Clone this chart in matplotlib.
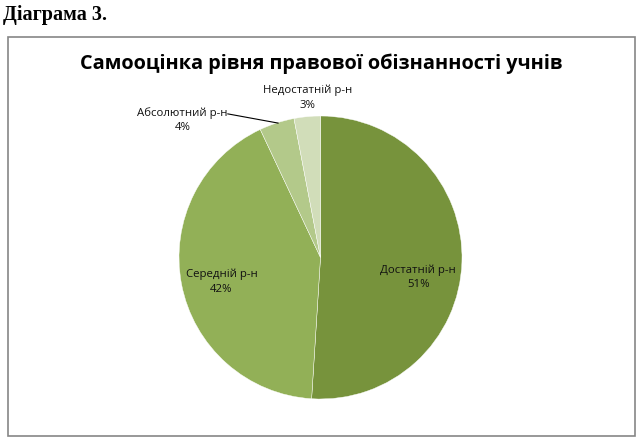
import matplotlib
matplotlib.use("Agg")
import matplotlib.pyplot as plt
from matplotlib.patches import Rectangle

W, H = 643, 444
categories = ["Достатній р-н", "Середній р-н", "Абсолютний р-н", "Недостатній р-н"]
values = [51, 42, 4, 3]
pct_labels = ["51%", "42%", "4%", "3%"]
colors = ["#77933C", "#92B057", "#B3C98A", "#D1DDB9"]
# label positions (radius units, relative to pie centre)
label_pos = [(0.69, -0.14), (-0.70, -0.17), (-0.975, 0.97), (-0.09, 1.13)]

fig = plt.figure(figsize=(W / 100, H / 100), dpi=100)
fig.patch.set_facecolor("white")

# outer frame
fig.add_artist(Rectangle((8 / W, 1 - 436 / H), (635 - 8) / W, (436 - 37) / H,
                         transform=fig.transFigure, fill=False,
                         edgecolor="#868686", linewidth=1.2))

fig.text(3 / W, 1 - 15 / H, "Діаграма 3.", family="Liberation Serif",
         fontweight="bold", fontsize=14.5, va="center", ha="left")
fig.text(321 / W, 1 - 64 / H, "Самооцінка рівня правової обізнанності учнів",
         family="Open Sans", fontweight="bold", fontsize=14.3,
         va="center", ha="center")

cx, cy, r = 320.5, 257.5, 141.5
ax = fig.add_axes([(cx - r) / W, (H - cy - r) / H, 2 * r / W, 2 * r / H])
wedges, _ = ax.pie(values, colors=colors, startangle=90, counterclock=False,
                   radius=1.0, wedgeprops=dict(linewidth=0.3, edgecolor="white"))
ax.set_xlim(-1, 1)
ax.set_ylim(-1, 1)
ax.set_aspect("equal")
ax.axis("off")

for i, (name, pct) in enumerate(zip(categories, pct_labels)):
    x, y = label_pos[i]
    ax.text(x, y, name + "\n" + pct, ha="center", va="center",
            fontsize=8.2, family="Open Sans", color="#111111",
            linespacing=1.45, clip_on=False)

# leader line for Абсолютний
ax.plot([-0.655, -0.30], [1.015, 0.95], color="black", linewidth=0.8,
        clip_on=False)

fig.savefig("out.png", dpi=100)
